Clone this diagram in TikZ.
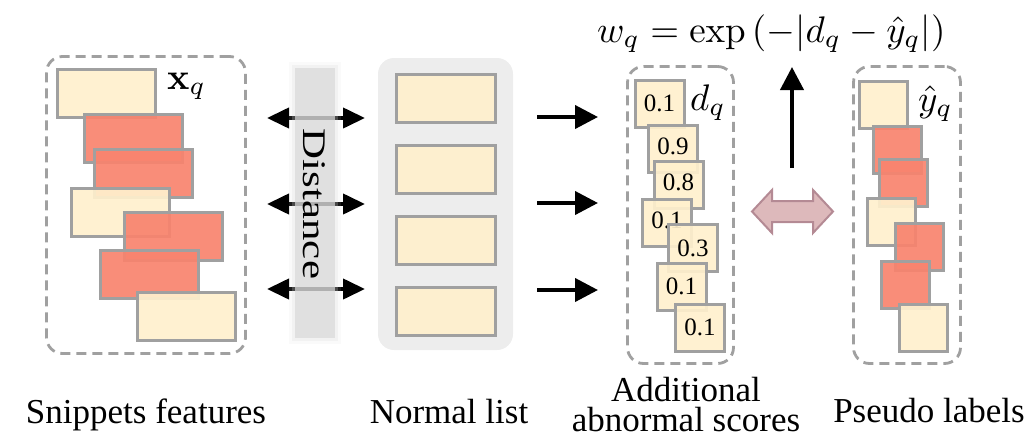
\documentclass[tikz,border=0pt]{standalone}
\usepackage[no-math]{fontspec}
\setmainfont{Liberation Serif}
\usetikzlibrary{arrows.meta}
\definecolor{cream}{HTML}{FFF0CD}
\definecolor{salmon}{HTML}{F8836E}
\definecolor{edgegray}{HTML}{A0A0A0}
\definecolor{listbg}{HTML}{EDEDED}
\definecolor{barbg}{HTML}{D9D9D9}
\definecolor{pinkfill}{HTML}{DDB9BB}
\definecolor{pinkdraw}{HTML}{B48A94}
\begin{document}
\begin{tikzpicture}[x=1pt,y=-1pt,
  feat/.style={draw=edgegray, line width=3pt, fill opacity=0.92, inner sep=0pt},
  wide/.style={minimum width=98pt, minimum height=48pt},
  sq/.style={minimum width=49pt, minimum height=47pt},
  cr/.style={feat, fill=cream},
  rd/.style={feat, fill=salmon},
  group/.style={draw=edgegray, line width=2.8pt, dash pattern=on 10pt off 6pt, rounded corners=16pt, inner sep=0pt},
  num/.style={font=\fontsize{25}{25}\selectfont, text opacity=1},
  lbl/.style={font=\fontsize{35}{30}\selectfont, align=center, inner sep=0pt},
  mlbl/.style={inner sep=0pt, anchor=base west},
  dblarrow/.style={line width=4pt, {Triangle[length=22pt,width=20pt]}-{Triangle[length=22pt,width=20pt]}},
  onearrow/.style={line width=4pt, -{Triangle[length=23pt,width=23pt]}},
]
\useasboundingbox (0,0) rectangle (1035,439);

% ---------- Snippets features ----------
\node[group, minimum width=199pt, minimum height=297pt] (gx) at (146,205) {};
\node[cr, wide] (x1) at (106,93) {};
\node[rd, wide] (x2) at (133.5,138) {};
\node[rd, wide] (x3) at (143.5,173) {};
\node[cr, wide] (x4) at (120,212) {};
\node[rd, wide] (x5) at (173.5,236) {};
\node[rd, wide] (x6) at (149.5,274) {};
\node[cr, wide] (x7) at (186.5,316.5) {};
\node[mlbl] (xq) at (167,89) {\scalebox{3.7}{$\mathbf{x}_q$}};

% ---------- Distance arrows and bar ----------
\coordinate (dl1) at (267,118); \coordinate (dr1) at (365,118);
\coordinate (dl2) at (267,204); \coordinate (dr2) at (365,204);
\coordinate (dl3) at (267,289); \coordinate (dr3) at (365,289);
\draw[dblarrow] (dl1) -- (dr1);
\draw[dblarrow] (dl2) -- (dr2);
\draw[dblarrow] (dl3) -- (dr3);
\fill[barbg, opacity=0.12] (289,62) rectangle (341,344);
\fill[barbg, opacity=0.25] (292,65) rectangle (338,341);
\fill[barbg, opacity=0.72] (295,68) rectangle (335,338);
\node[rotate=-90, font=\fontsize{33}{33}\selectfont, inner sep=0pt] (dist) at (314,204) {\scalebox{1.3}[1]{Distance}};

% ---------- Normal list ----------
\node[fill=listbg, rounded corners=16pt, minimum width=135pt, minimum height=292pt, inner sep=0pt] (nl) at (445.5,204) {};
\node[cr, minimum width=99pt, minimum height=48pt] (n1) at (446,98) {};
\node[cr, minimum width=99pt, minimum height=48pt] (n2) at (446,169) {};
\node[cr, minimum width=99pt, minimum height=48pt] (n3) at (446,240) {};
\node[cr, minimum width=99pt, minimum height=48pt] (n4) at (446,311) {};

% ---------- arrows to scores ----------
\coordinate (a1) at (537,117); \coordinate (b1) at (598,117);
\coordinate (a2) at (537,203); \coordinate (b2) at (598,203);
\coordinate (a3) at (537,290); \coordinate (b3) at (598,290);
\draw[onearrow] (a1) -- (b1);
\draw[onearrow] (a2) -- (b2);
\draw[onearrow] (a3) -- (b3);

% ---------- Additional abnormal scores ----------
\node[group, minimum width=106pt, minimum height=297pt] (gd) at (680.5,215) {};
\node[cr, sq] (d1) at (659.5,103.5) {}; \node[num] at (d1) {0.1};
\node[cr, sq] (d2) at (673,148.5) {};   \node[num] at ([yshift=2pt]d2.center) {0.9};
\node[cr, sq] (d3) at (678.5,184.5) {}; \node[num] at ([yshift=2pt]d3.center) {0.8};
\node[cr, sq] (d4) at (667,222.5) {};   \node[num] at ([yshift=2pt]d4.center) {0.1};
\node[cr, sq] (d5) at (693,248) {};     \node[num] at (d5) {0.3};
\node[cr, sq] (d6) at (681.5,286.5) {}; \node[num] at (d6) {0.1};
\node[cr, sq] (d7) at (700,327.5) {};   \node[num] at (d7) {0.1};
\node[mlbl] (dq) at (690,110) {\scalebox{3.7}{$d_q$}};

% ---------- formula and up arrow ----------
\node[inner sep=0pt, anchor=base west] (wq) at (597,42) {\scalebox{3.7}{$w_q = \exp\left(-|d_q-\hat{y}_q|\right)$}};
\coordinate (u0) at (792,168); \coordinate (u1) at (792,67);
\draw[onearrow] (u0) -- (u1);

% ---------- pink double arrow ----------
\draw[fill=pinkfill, draw=pinkdraw, line width=2pt, line join=miter]
  (752,211.5) -- (772,190) -- (772,201) -- (813,201) -- (813,190) -- (833,211.5)
  -- (813,233) -- (813,222) -- (772,222) -- (772,233) -- cycle;

% ---------- Pseudo labels ----------
\node[group, minimum width=107pt, minimum height=297pt] (gy) at (907,215) {};
\node[cr, sq, minimum width=48pt] (y1) at (883.5,104.5) {};
\node[rd, sq, minimum width=48pt] (y2) at (897.5,149.5) {};
\node[rd, sq, minimum width=48pt] (y3) at (903,183) {};
\node[cr, sq, minimum width=48pt] (y4) at (891,222) {};
\node[rd, sq, minimum width=48pt] (y5) at (919,247) {};
\node[rd, sq, minimum width=48pt] (y6) at (905.5,285) {};
\node[cr, sq, minimum width=48pt] (y7) at (923.5,327.5) {};
\node[mlbl] (yq) at (918,111) {\scalebox{3.7}{$\hat{y}_q$}};

% ---------- captions ----------
\node[lbl, anchor=base] (c1) at (146,423) {Snippets features};
\node[lbl, anchor=base] (c2) at (449,423) {Normal list};
\node[lbl] (c3) at (686,405) {Additional\\abnormal scores};
\node[lbl, anchor=base] (c4) at (929,422) {Pseudo labels};
\end{tikzpicture}
\end{document}
